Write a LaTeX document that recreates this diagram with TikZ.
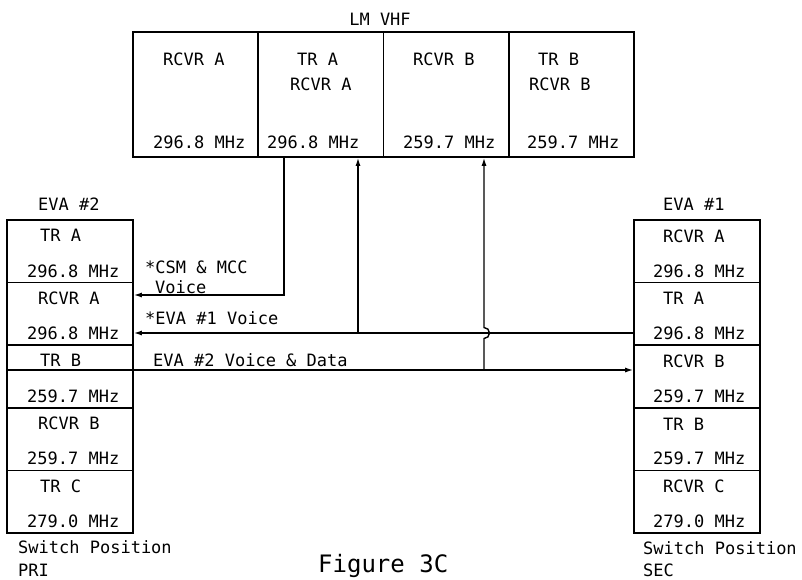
\documentclass[tikz,border=0pt]{standalone}
\usepackage{fontspec}
\setmonofont{DejaVu Sans Mono}
\usetikzlibrary{arrows.meta,positioning}

\begin{document}
\begin{tikzpicture}[x=1pt, y=-1pt,
  every node/.style={font=\ttfamily\fontsize{17}{20}\selectfont, inner sep=0pt},
  lmbox/.style={draw, line width=1.6pt, minimum width=125.25pt, minimum height=125pt},
  unitbox/.style={draw, line width=1.6pt, minimum width=126pt, minimum height=62.6pt},
  lbl/.style={anchor=west},
  conn/.style={line width=1.4pt},
  tip/.style={-{Latex[length=8pt,width=5pt]}}]
  \useasboundingbox[fill=white] (0,0) rectangle (802,579);

  % LM VHF
  \node (lmtitle) at (380,19) {LM VHF};
  \node[lmbox] (lm1) at (195.6,94.5) {};
  \node[lmbox] (lm2) at (320.9,94.5) {};
  \node[lmbox] (lm3) at (446.1,94.5) {};
  \node[lmbox] (lm4) at (571.4,94.5) {};
  \node[lbl] (lm1a) at (163,59) {RCVR A};
  \node[lbl] (lm1f) at (153,142) {296.8 MHz};
  \node[lbl] (lm2a) at (297,59) {TR A};
  \node[lbl] (lm2b) at (290,84) {RCVR A};
  \node[lbl] (lm2f) at (267,142) {296.8 MHz};
  \node[lbl] (lm3a) at (413,59) {RCVR B};
  \node[lbl] (lm3f) at (403,142) {259.7 MHz};
  \node[lbl] (lm4a) at (538,59) {TR B};
  \node[lbl] (lm4b) at (529,84) {RCVR B};
  \node[lbl] (lm4f) at (527,142) {259.7 MHz};

  % EVA #2
  \node[lbl] (e2title) at (38,204) {EVA \#2};
  \node[unitbox] (e2a) at (70,251.3) {};
  \node[unitbox] (e2b) at (70,313.9) {};
  \node[unitbox] (e2c) at (70,376.5) {};
  \node[unitbox] (e2d) at (70,439.1) {};
  \node[unitbox] (e2e) at (70,501.7) {};
  \node[lbl] (e2at) at (40,235.5) {TR A};
  \node[lbl] (e2af) at (27,271) {296.8 MHz};
  \node[lbl] (e2bt) at (38,298) {RCVR A};
  \node[lbl] (e2bf) at (27,333.6) {296.8 MHz};
  \node[lbl] (e2ct) at (40,360.7) {TR B};
  \node[lbl] (e2cf) at (27,396.2) {259.7 MHz};
  \node[lbl] (e2dt) at (38,423.3) {RCVR B};
  \node[lbl] (e2df) at (27,458.8) {259.7 MHz};
  \node[lbl] (e2et) at (40,485.9) {TR C};
  \node[lbl] (e2ef) at (27,521.4) {279.0 MHz};
  \node[lbl] (e2sw) at (18,547) {Switch Position};
  \node[lbl] (e2pos) at (18,570) {PRI};

  % EVA #1
  \node[lbl] (e1title) at (663,204) {EVA \#1};
  \node[unitbox] (e1a) at (697,251.3) {};
  \node[unitbox] (e1b) at (697,313.9) {};
  \node[unitbox] (e1c) at (697,376.5) {};
  \node[unitbox] (e1d) at (697,439.1) {};
  \node[unitbox] (e1e) at (697,501.7) {};
  \node[lbl] (e1at) at (663,236) {RCVR A};
  \node[lbl] (e1af) at (653,271) {296.8 MHz};
  \node[lbl] (e1bt) at (663,298.6) {TR A};
  \node[lbl] (e1bf) at (653,333.6) {296.8 MHz};
  \node[lbl] (e1ct) at (663,361.2) {RCVR B};
  \node[lbl] (e1cf) at (653,396.2) {259.7 MHz};
  \node[lbl] (e1dt) at (663,423.8) {TR B};
  \node[lbl] (e1df) at (653,458.8) {259.7 MHz};
  \node[lbl] (e1et) at (663,486.4) {RCVR C};
  \node[lbl] (e1ef) at (653,521.4) {279.0 MHz};
  \node[lbl] (e1sw) at (643,548) {Switch Position};
  \node[lbl] (e1pos) at (643,570) {SEC};

  % links
  \draw[conn,tip] (lm2.south -| 284,0) |- (e2b.east |- 0,295);
  \draw[conn,tip] (e1b.west |- 0,333) -- (e2b.east |- 0,333);
  \draw[conn,tip] (358,333) -- (lm2.south -| 358,0);
  \draw[conn,tip] (e2c.west |- 0,370) -- (e1c.west |- 0,370);
  \draw[conn,tip] (484,370) -- (484,338.5) arc[start angle=90, end angle=-90, radius=5.5] -- (lm3.south -| 484,0);

  \node[lbl] (csm) at (145,267) {*CSM \& MCC};
  \node[lbl] (csmv) at (155,287) {Voice};
  \node[lbl] (e1v) at (145,318) {*EVA \#1 Voice};
  \node[lbl] (e2v) at (153,360) {EVA \#2 Voice \& Data};

  \node[anchor=base west, font=\ttfamily\fontsize{24}{28}\selectfont] (fig) at (318,572) {Figure 3C};
\end{tikzpicture}
\end{document}
